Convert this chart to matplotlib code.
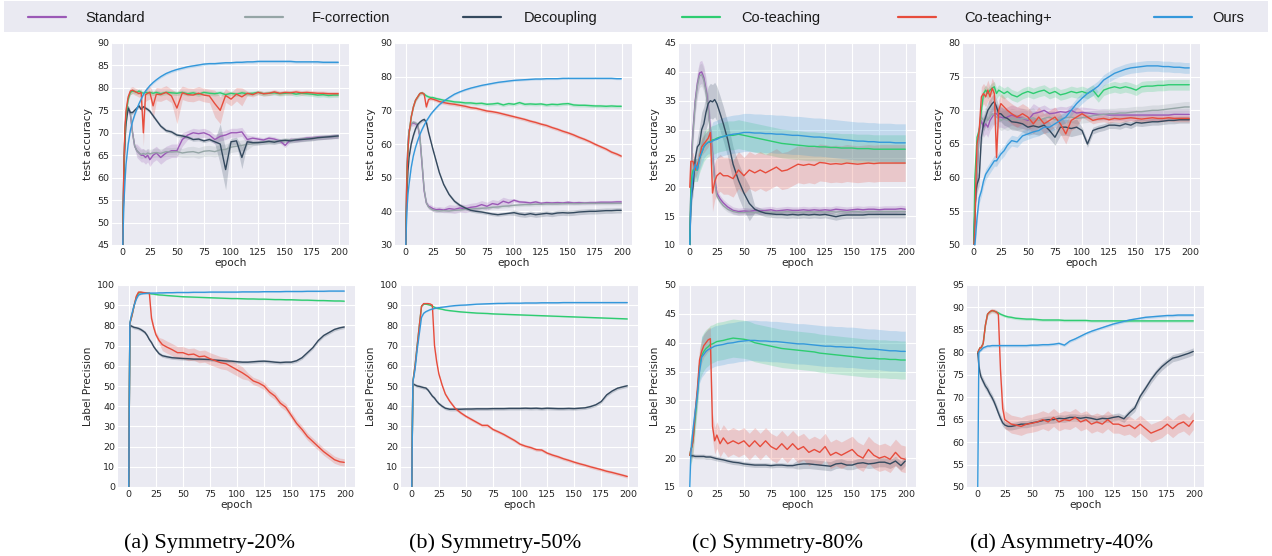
import numpy as np
import matplotlib
matplotlib.use('Agg')
import matplotlib.pyplot as plt
from matplotlib.lines import Line2D
from matplotlib.patches import Rectangle

plt.style.use('seaborn-v0_8-darkgrid')
plt.rcParams['font.family'] = ['DejaVu Sans']

METHODS = ['Standard', 'F-correction', 'Decoupling', 'Co-teaching', 'Co-teaching+', 'Ours']
COLORS = {'Standard': '#9b59b6', 'F-correction': '#95a5a6', 'Decoupling': '#34495e',
          'Co-teaching': '#2ecc71', 'Co-teaching+': '#e74c3c', 'Ours': '#3498db'}

EPOCHS = [0, 1, 2, 3, 5, 7, 9, 11, 13, 15, 17, 19, 21, 23, 25,
          28, 31, 35, 40, 45, 50, 55, 60, 65, 70, 75, 80, 85, 90, 95,
          100, 105, 110, 115, 120, 125, 130, 135, 140, 145, 150, 155,
          160, 165, 170, 175, 180, 185, 190, 195, 199]

CAPTIONS = ['(a) Symmetry-20%', '(b) Symmetry-50%', '(c) Symmetry-80%', '(d) Asymmetry-40%']

# ---------------- test accuracy, Symmetry-20% ----------------
acc_s20_standard = [45, 62, 70, 74, 75.5, 74, 70, 67, 66, 65.5, 65, 65, 64.5, 65, 64,
                    65, 65.5, 64.5, 65.5, 66, 66, 68.5, 69.5, 70, 69.8, 70, 69.5, 68.5, 69.2, 69.5,
                    70, 70, 70.2, 68.5, 68.8, 68.6, 68.4, 68.8, 68.6, 68.2, 67.2, 68.5,
                    68.4, 68.6, 68.8, 68.9, 69.0, 69.0, 69.1, 69.2, 69.2]
acc_s20_fcorr = [45, 62, 70, 74, 75.8, 74.5, 70, 67, 66, 65.5, 65.2, 65.4, 65.2, 65.5, 65.3,
                 65.5, 65.6, 65.4, 65.8, 65.7, 65.8, 65.5, 65.7, 65.8, 65.5, 65.9, 66, 65.8, 66.2, 66.3,
                 66.8, 67, 67.2, 67.4, 67.6, 67.8, 68, 67.9, 68.1, 68.2, 68.4, 68.4,
                 68.5, 68.6, 68.7, 68.8, 68.9, 69, 69.1, 69.2, 69.2]
acc_s20_decoupling = [45, 60, 68, 72, 75.5, 74.5, 74.5, 75, 75.5, 76, 75.2, 75.8, 75.5, 75.2, 74.8,
                      73.8, 72.8, 71.5, 70.5, 70.2, 69.5, 69.3, 69, 68.5, 68.6, 68.2, 68.5, 68, 67.5, 61.8,
                      68, 68.2, 64.5, 68, 67.8, 67.8, 67.9, 68.1, 67.9, 68.2, 68.3, 68.2,
                      68.4, 68.5, 68.6, 68.7, 68.9, 69, 69.1, 69.2, 69.3]
acc_s20_coteach = [45, 62, 70, 74, 77.5, 79, 79.3, 79.2, 79, 79.3, 79, 78.8, 79, 78.9, 79,
                   78.8, 79, 78.7, 79, 78.9, 78.8, 79, 78.7, 78.9, 78.6, 79, 78.8, 78.7, 78.9, 78.5,
                   78.8, 78.6, 78.9, 78.7, 78.8, 79, 78.7, 78.8, 78.9, 78.7, 78.8, 78.9,
                   78.6, 78.8, 78.7, 78.6, 78.4, 78.5, 78.3, 78.4, 78.4]
acc_s20_coplus = [45, 63, 71, 75, 78, 79.3, 79.5, 79.2, 79, 78.7, 79, 70, 78.5, 78.8, 79,
                  76, 78.6, 78.5, 79, 78.2, 75.5, 78.9, 78.5, 78.4, 78.8, 78.4, 78.2, 76.5, 75, 78.3,
                  77.5, 78.6, 78, 78.8, 78.5, 79, 78.7, 78.8, 79.1, 78.8, 79, 78.9,
                  79.1, 78.9, 79, 78.9, 78.8, 78.8, 78.7, 78.7, 78.7]
acc_s20_ours = [45, 54, 59, 63, 67.5, 70.5, 72.5, 74, 75.3, 76.5, 77.5, 78.5, 79.3, 79.9, 80.5,
                81.2, 81.8, 82.5, 83.2, 83.7, 84.1, 84.4, 84.7, 84.9, 85.1, 85.3, 85.4, 85.4, 85.5, 85.6,
                85.6, 85.7, 85.7, 85.8, 85.8, 85.9, 85.9, 85.9, 85.9, 85.9, 85.9, 85.9,
                85.8, 85.8, 85.8, 85.8, 85.8, 85.7, 85.7, 85.7, 85.7]
band_acc_s20 = [[(0, 0.5), (13, 1.5), (60, 1.0), (120, 0.5)],
                [(0, 0.5), (13, 1.0), (60, 1.2), (120, 0.5)],
                [(0, 0.4), (90, 4.5), (100, 0.8), (110, 2.5), (115, 0.5)],
                [(0, 0.5)],
                [(0, 0.8), (19, 3.0), (21, 1.5), (28, 3.0), (31, 1.5), (50, 3.5), (55, 1.5),
                 (85, 3.0), (95, 1.5), (110, 2.0), (115, 0.5)],
                [(0, 0.3)]]

# ---------------- test accuracy, Symmetry-50% ----------------
acc_s50_standard = [30, 52, 60, 64, 66, 66.2, 66, 65.5, 62, 54, 46, 42.5, 41.5, 41.2, 40.8,
                    40.5, 40.6, 40.4, 40.8, 40.6, 41, 40.8, 41.2, 41.4, 42, 41.5, 42.3, 42, 43, 42.5,
                    43.3, 42.8, 42.7, 42.5, 42.8, 42.4, 42.6, 42.5, 42.6, 42.5, 42.7, 42.5,
                    42.6, 42.5, 42.6, 42.6, 42.7, 42.7, 42.7, 42.8, 42.8]
acc_s50_fcorr = [30, 52, 60, 64, 66, 66.5, 66.2, 65.8, 62.5, 54.5, 46.5, 42.5, 41.3, 40.8, 40.4,
                 40.2, 40.1, 40.2, 40.1, 40.3, 40.4, 40.6, 40.7, 40.8, 40.9, 41, 41.2, 41.3, 41.5, 41.6,
                 41.8, 41.9, 42, 42, 42.1, 42.1, 42.2, 42.2, 42.2, 42.3, 42.3, 42.3,
                 42.3, 42.4, 42.4, 42.4, 42.4, 42.4, 42.4, 42.4, 42.4]
acc_s50_decoupling = [30, 45, 52, 56, 60, 62.5, 64.5, 65.8, 66.5, 67, 67.3, 66.5, 63.5, 61, 58.5,
                      55, 51.5, 48, 45, 43, 41.8, 41, 40.3, 40, 39.8, 39.5, 39.2, 39, 39.2, 39.4,
                      39.6, 39.2, 39, 39.3, 39, 39.2, 39.4, 39.2, 39.5, 39.6, 39.5, 39.6,
                      39.8, 39.9, 40, 40, 40.1, 40.2, 40.2, 40.3, 40.3]
acc_s50_coteach = [30, 50, 58, 63, 68, 71, 73, 74, 75, 75.2, 74.8, 74.3, 74, 73.8, 73.8,
                   73.5, 73.3, 73, 72.8, 72.5, 72.4, 72.2, 72.2, 72, 72.1, 71.8, 71.9, 72.1, 71.6, 72,
                   71.8, 72.3, 71.8, 71.9, 71.8, 71.9, 71.6, 71.8, 71.7, 71.9, 72, 71.6,
                   71.5, 71.5, 71.4, 71.3, 71.3, 71.2, 71.3, 71.2, 71.2]
acc_s50_coplus = [30, 50, 58, 63, 68, 71, 73, 74, 75, 75.2, 74.8, 71, 73.2, 73.5, 73.3,
                  73, 72.6, 72.3, 72, 71.8, 71.5, 71.2, 70.8, 70.6, 70.2, 69.8, 69.6, 69.3, 68.9, 68.5,
                  68.1, 67.7, 67.3, 66.8, 66.4, 65.9, 65.5, 64.9, 64.4, 63.8, 63.3, 62.7,
                  62, 61.4, 60.7, 59.9, 59.2, 58.5, 57.6, 57, 56.4]
acc_s50_ours = [30, 40, 45, 48, 53, 56.5, 59, 61, 62.8, 64.3, 65.6, 66.8, 67.8, 68.8, 69.6,
                70.7, 71.7, 72.7, 73.8, 74.8, 75.5, 76.1, 76.6, 77.0, 77.4, 77.7, 78.0, 78.3, 78.5, 78.7,
                78.9, 79.0, 79.1, 79.2, 79.3, 79.3, 79.4, 79.4, 79.4, 79.5, 79.5, 79.5,
                79.5, 79.5, 79.5, 79.5, 79.5, 79.5, 79.5, 79.4, 79.4]
band_acc_s50 = [[(0, 0.8), (40, 1.2), (100, 0.5)],
                [(0, 0.5)],
                [(0, 0.5), (100, 0.8)],
                [(0, 0.5)],
                [(0, 0.5)],
                [(0, 0.3)]]

# ---------------- test accuracy, Symmetry-80% ----------------
acc_s80_standard = [10, 20, 27, 30, 35, 38, 39.8, 40, 39, 37, 34, 30, 26, 21.5, 19,
                    18, 17.3, 16.6, 16, 15.8, 15.9, 15.8, 16, 15.9, 16, 16.1, 15.9, 16, 16.1, 16,
                    16, 16.1, 16, 16.1, 16, 16.1, 16, 16.2, 16.1, 16, 16.1, 16.2,
                    16.1, 16.2, 16.2, 16.1, 16.2, 16.2, 16.2, 16.3, 16.2]
acc_s80_fcorr = [10, 19, 26, 29.5, 34.5, 37.5, 39.3, 39.5, 38.5, 36.5, 33.5, 29.5, 25.5, 21, 18.5,
                 17.5, 16.8, 16.2, 15.8, 15.6, 15.6, 15.7, 15.6, 15.7, 15.7, 15.6, 15.7, 15.7, 15.8, 15.7,
                 15.7, 15.7, 15.8, 15.7, 15.8, 15.7, 15.8, 15.7, 15.8, 15.7, 15.8, 15.8,
                 15.7, 15.8, 15.8, 15.8, 15.8, 15.8, 15.8, 15.8, 15.8]
acc_s80_decoupling = [10, 17, 19, 20, 25, 27, 27.5, 30, 31, 33, 34.5, 35, 34.8, 35.2, 34.5,
                      32.8, 31, 28.3, 24, 21.2, 19, 17.2, 16.2, 15.8, 15.5, 15.4, 15.3, 15.3, 15.2, 15.3,
                      15.2, 15.3, 15.2, 15.3, 15.2, 15.3, 15.1, 14.9, 15.1, 15.2, 15.2, 15.2,
                      15.2, 15.3, 15.3, 15.3, 15.3, 15.3, 15.3, 15.3, 15.3]
acc_s80_coteach = [10, 20, 22, 23, 23, 23, 25, 26, 27, 27.5, 27.8, 28, 28.2, 28.3, 28.5,
                   28.7, 28.8, 29, 29, 29.2, 29, 28.8, 28.6, 28.4, 28.2, 28, 27.8, 27.6, 27.5, 27.4,
                   27.3, 27.2, 27.1, 27.1, 27, 27, 26.9, 26.9, 26.8, 26.8, 26.8, 26.7,
                   26.7, 26.7, 26.6, 26.6, 26.6, 26.6, 26.6, 26.6, 26.6]
acc_s80_coplus = [20, 24.5, 24.5, 24.5, 23, 24, 25, 27, 27.5, 28, 28.5, 29.5, 19, 21, 22,
                  22.5, 22, 22, 21.5, 23, 22, 23, 22.5, 23, 22.5, 23, 23.5, 22.8, 23, 23.5,
                  24, 23.8, 24, 23.8, 24.3, 24.2, 24, 24.1, 24, 24.2, 24.1, 24,
                  24.1, 24.2, 24.1, 24.2, 24.2, 24.2, 24.2, 24.2, 24.2]
acc_s80_ours = [10, 17, 20, 22, 24, 23, 25, 26, 27, 27.5, 27.8, 27.8, 28, 28.2, 28.3,
                28.6, 28.8, 29, 29.2, 29.3, 29.5, 29.5, 29.4, 29.4, 29.3, 29.3, 29.2, 29.2, 29.1, 29,
                29, 28.9, 28.8, 28.7, 28.7, 28.6, 28.5, 28.4, 28.3, 28.2, 28.1, 28,
                28, 27.9, 27.9, 27.8, 27.8, 27.8, 27.7, 27.7, 27.7]
band_acc_s80 = [[(0, 2.0), (25, 0.6)],
                [(0, 2.0), (25, 0.5)],
                [(0, 1.5), (9, 3.0), (60, 0.6)],
                [(0, 2.0), (9, 2.5)],
                [(0, 1.5), (21, 3.2)],
                [(0, 2.0), (21, 3.3)]]

# ---------------- test accuracy, Asymmetry-40% ----------------
acc_a40_standard = [50, 55, 58, 60, 67, 68.5, 67.5, 68, 67.5, 68.5, 69, 69.5, 69.5, 69, 69,
                    68.8, 69, 69.3, 69, 68.8, 68.5, 69.5, 69.7, 70, 69.5, 69.6, 69.8, 69.7, 70, 69.6,
                    69.7, 69.6, 69.5, 69.4, 69.4, 69.3, 69.3, 69.3, 69.3, 69.3, 69.3, 69.3,
                    69.3, 69.3, 69.3, 69.3, 69.3, 69.4, 69.4, 69.4, 69.4]
acc_a40_fcorr = [50, 55, 58, 60, 67, 69, 68.5, 69, 68.5, 69, 69.5, 69.3, 69, 68.8, 68.5,
                 68.7, 68.5, 68.8, 68.6, 68.8, 68.7, 68.9, 68.5, 68.8, 69, 68.6, 68.7, 68.9, 69, 68.8,
                 68.9, 69, 69.2, 69.3, 69.4, 69.5, 69.5, 69.6, 69.6, 69.7, 69.8, 69.8,
                 69.9, 70, 70, 70.1, 70.2, 70.3, 70.4, 70.5, 70.5]
acc_a40_decoupling = [50, 55, 58, 59, 60, 66, 68, 69, 70, 70.5, 71, 71.3, 70.5, 69.5, 69.5,
                      69, 68.8, 68.3, 68.2, 68, 67.5, 67.7, 67.5, 67.8, 67, 66, 67.5, 67.5, 67.3, 67.5,
                      67, 65, 67, 67.3, 67.5, 67.8, 67.8, 67.7, 68, 67.8, 68.2, 68.1,
                      68.2, 68.3, 68.3, 68.4, 68.5, 68.5, 68.6, 68.6, 68.6]
acc_a40_coteach = [50, 60, 63, 66, 67, 70, 72.5, 73, 72.5, 73, 73.3, 73.5, 72.5, 73, 72.8,
                   72.5, 72.8, 72.3, 72, 72.5, 72.8, 72.5, 72.8, 73, 72.5, 72.8, 72.3, 72.5, 72.8, 72.6,
                   72.8, 72.5, 73, 72, 73, 73.3, 73.5, 73.3, 73.5, 73.3, 73, 73.5,
                   73.6, 73.6, 73.7, 73.7, 73.8, 73.8, 73.8, 73.8, 73.8]
acc_a40_coplus = [50, 52, 60, 65, 67, 72, 72.5, 72, 73, 72, 73.3, 72.5, 63, 70, 71,
                  70.5, 70, 69.5, 69, 69.5, 69, 68, 69, 68, 68.5, 69, 68, 66.5, 68.5, 69,
                  69.5, 69, 68.5, 68.7, 68.8, 68.6, 68.8, 68.7, 68.8, 68.9, 68.8, 68.7,
                  68.8, 68.9, 68.8, 68.8, 68.9, 68.8, 68.8, 68.8, 68.8]
acc_a40_ours = [50, 50, 52, 54, 57, 58, 59.5, 60.5, 61, 61.5, 62, 62.5, 62.5, 63, 63.5,
                64, 64.8, 65.5, 65.3, 66.2, 66.5, 66.8, 67, 67.5, 67.5, 68, 68.5, 69, 70, 71,
                71.8, 72.5, 73, 73.6, 74.5, 75, 75.5, 75.8, 76.1, 76.3, 76.4, 76.5,
                76.6, 76.6, 76.6, 76.5, 76.5, 76.4, 76.4, 76.3, 76.3]
band_acc_a40 = [[(0, 1.5), (60, 0.8)],
                [(0, 1.5), (60, 0.8)],
                [(0, 1.2), (100, 0.5)],
                [(0, 0.8)],
                [(0, 1.5), (100, 0.5)],
                [(0, 0.8)]]

# ---------------- label precision, Symmetry-20% ----------------
prec_s20_decoupling = [0, 80, 79.8, 79.5, 79, 78.8, 78.5, 78, 77.3, 76.5, 75, 73, 71.5, 69.5, 68,
                       66, 65, 64.5, 64, 63.8, 63.6, 63.5, 63.3, 63.3, 63.2, 63.1, 62.8, 62.6, 62.4, 62.3,
                       62, 61.8, 61.8, 62, 62.2, 62.3, 62.1, 61.8, 61.6, 61.8, 61.8, 62.5,
                       64, 66.5, 69, 72.5, 75, 76.5, 78, 78.8, 79.2]
prec_s20_coteach = [0, 81, 83, 85, 90, 94, 96, 96.3, 96.2, 96, 96, 95.8, 95.6, 95.5, 95.3,
                    95.1, 95, 94.8, 94.6, 94.4, 94.2, 94.1, 94, 93.9, 93.8, 93.7, 93.6, 93.5, 93.4, 93.3,
                    93.3, 93.2, 93.1, 93.1, 93, 93, 92.9, 92.8, 92.8, 92.7, 92.7, 92.6,
                    92.5, 92.5, 92.4, 92.3, 92.3, 92.2, 92.1, 92.1, 92]
prec_s20_coplus = [0, 81, 83, 85, 90, 94.5, 96.5, 96.5, 96.3, 96.2, 96, 96, 83.5, 79, 75.5,
                   72.5, 70.5, 69.3, 68, 66.5, 66.5, 65.5, 65.8, 64.5, 64.8, 63.5, 62.5, 61.5, 61, 59.5,
                   58, 56.5, 54.7, 52.5, 51.5, 50, 47, 45, 41.5, 39.5, 35.5, 31.5,
                   28.5, 25, 22.5, 20, 17.5, 15.5, 13.5, 12.5, 12.2]
prec_s20_ours = [0, 81, 84, 86, 90, 93, 95, 95.5, 95.7, 95.8, 95.9, 96, 96, 96, 96,
                 96.1, 96.1, 96.2, 96.2, 96.3, 96.3, 96.3, 96.4, 96.4, 96.4, 96.5, 96.5, 96.5, 96.5, 96.5,
                 96.5, 96.6, 96.6, 96.6, 96.6, 96.7, 96.7, 96.7, 96.7, 96.8, 96.8, 96.8,
                 96.8, 96.9, 96.9, 96.9, 96.9, 97, 97, 97, 97]
band_prec_s20 = [[(0, 0.8)], [(0, 0.3)],
                 [(0, 0.5), (21, 1.5), (30, 3.0), (110, 1.8)], [(0, 0.3)]]

# ---------------- label precision, Symmetry-50% ----------------
prec_s50_decoupling = [0, 51, 50.8, 50.5, 50, 49.8, 49.5, 49.2, 49, 48, 46.5, 45, 44, 42.5, 41.3,
                       40, 39, 38.5, 38.5, 38.5, 38.6, 38.6, 38.7, 38.7, 38.7, 38.8, 38.8, 38.8, 38.9, 38.9,
                       38.9, 39, 38.9, 39, 38.8, 39, 38.9, 38.8, 38.8, 38.9, 38.8, 39,
                       39.2, 39.8, 40.7, 42.3, 45.6, 47.5, 48.9, 49.6, 50.1]
prec_s50_coteach = [0, 52, 56, 60, 70, 80, 89.5, 90.5, 90.5, 90.3, 90, 89.5, 89, 88.5, 88.3,
                    88, 87.6, 87.3, 87, 86.7, 86.5, 86.3, 86.1, 86, 85.9, 85.7, 85.6, 85.5, 85.4, 85.3,
                    85.2, 85.1, 85, 84.9, 84.8, 84.7, 84.6, 84.5, 84.4, 84.3, 84.2, 84.1,
                    84, 83.9, 83.8, 83.7, 83.6, 83.5, 83.4, 83.3, 83.2]
prec_s50_coplus = [0, 52, 56, 60, 70, 80, 89.5, 90.8, 90.8, 90.8, 90.6, 90, 70, 62, 56,
                   50.5, 46, 42.5, 39, 36.8, 35, 33.5, 32, 30.5, 30.5, 28.5, 27.3, 26, 24.5, 23,
                   21.2, 20.2, 19.5, 18.5, 18.3, 16.8, 15.8, 15, 14, 13.2, 12.3, 11.5,
                   10.8, 10, 9.3, 8.6, 7.8, 7.2, 6.5, 5.8, 5.2]
prec_s50_ours = [0, 52, 55, 58, 68, 76, 84, 86, 86.8, 87.3, 87.8, 88.1, 88.4, 88.6, 88.8,
                 89, 89.2, 89.5, 89.8, 90, 90.1, 90.3, 90.5, 90.6, 90.7, 90.8, 90.9, 90.9, 91, 91,
                 91, 91.1, 91.1, 91.1, 91.2, 91.2, 91.2, 91.2, 91.3, 91.3, 91.3, 91.3,
                 91.3, 91.3, 91.3, 91.3, 91.3, 91.3, 91.3, 91.3, 91.3]
band_prec_s50 = [[(0, 0.8)], [(0, 0.3)], [(0, 0.5), (21, 0.8)], [(0, 0.3)]]

# ---------------- label precision, Symmetry-80% ----------------
prec_s80_decoupling = [20.5, 20.4, 20.4, 20.4, 20.3, 20.3, 20.3, 20.3, 20.3, 20.2, 20.2, 20.2, 20.1, 20, 19.9,
                       19.8, 19.7, 19.5, 19.3, 19.2, 19, 18.9, 18.8, 18.8, 18.8, 18.7, 18.8, 18.8, 18.7, 18.7,
                       18.9, 19, 19, 18.9, 18.8, 18.7, 18.6, 19, 19.1, 18.8, 18.8, 19.1,
                       19.2, 19, 19.1, 19.3, 19.3, 19, 19.5, 18.7, 19.5]
prec_s80_coteach = [20.5, 21.5, 22, 23, 27, 31, 36, 37.8, 38.5, 39, 39.3, 39.7, 39.8, 40, 40.2,
                    40.3, 40.4, 40.6, 40.8, 40.7, 40.6, 40.4, 40, 39.8, 39.6, 39.4, 39.2, 39, 38.9, 38.8,
                    38.7, 38.6, 38.5, 38.4, 38.2, 38.1, 38, 37.9, 37.8, 37.7, 37.6, 37.5,
                    37.4, 37.3, 37.3, 37.2, 37.2, 37.1, 37.1, 37, 37]
prec_s80_coplus = [20.5, 21.5, 22, 23, 28, 32, 37, 38.5, 39.5, 40, 40.5, 40.7, 25.5, 23, 24,
                   22.5, 23.5, 22.5, 23, 22.5, 23, 22, 23, 22, 23, 22, 21.5, 22.5, 21.5, 22.5,
                   21.5, 22, 21, 21.5, 21, 22, 20.5, 21, 20.5, 21, 21.5, 20.5,
                   20, 21.5, 20.5, 20, 20.3, 19.8, 21, 20, 19.8]
prec_s80_ours = [15, 21, 23, 25, 28, 31, 35, 37.5, 38, 38.5, 38.8, 39, 39.2, 39.4, 39.5,
                 39.6, 39.7, 39.9, 40, 40.2, 40.3, 40.4, 40.4, 40.3, 40.3, 40.2, 40.2, 40.1, 40, 39.9,
                 39.8, 39.8, 39.7, 39.6, 39.5, 39.4, 39.4, 39.3, 39.3, 39.2, 39.2, 39.1,
                 39, 38.9, 38.9, 38.8, 38.7, 38.6, 38.6, 38.5, 38.5]
band_prec_s80 = [[(0, 0.4), (100, 0.8)], [(0, 2.5), (11, 3.3)],
                 [(0, 2.0), (21, 2.3)], [(0, 2.0), (11, 3.5)]]

# ---------------- label precision, Asymmetry-40% ----------------
prec_a40_decoupling = [80, 77, 75.5, 74.5, 73.5, 72.5, 71.8, 70.8, 70, 69, 67.8, 66.5, 65.3, 64.3, 63.8,
                       63.5, 63.5, 63.7, 64, 64, 64.3, 64.5, 64.8, 65, 65, 65.3, 65.2, 65.5, 65.5, 65.3,
                       65.5, 65.3, 65, 65.3, 65.2, 65.5, 65.7, 65.2, 66.5, 67.6, 70.2, 72,
                       73.9, 75.5, 76.8, 77.8, 78.7, 79, 79.4, 79.8, 80.2]
prec_a40_coteach = [80, 80.5, 81, 81, 82, 86, 88.5, 89, 89.3, 89.2, 89, 88.8, 88.5, 88.3, 88.1,
                    87.9, 87.8, 87.6, 87.5, 87.4, 87.4, 87.3, 87.2, 87.2, 87.2, 87.2, 87.1, 87.1, 87.1, 87.1,
                    87.1, 87, 87, 87, 87, 87, 87, 87, 87, 87, 87, 87,
                    87, 87, 87, 87, 87, 87, 87, 87, 87]
prec_a40_coplus = [80, 80.5, 81, 81, 82, 86, 88.5, 89, 89.3, 89.2, 89, 88.5, 76, 67.5, 65,
                   64.5, 64, 63.8, 63.5, 64, 64.2, 64.5, 65, 64.5, 65.5, 64.5, 65, 64.8, 65.5, 64.5,
                   65, 64, 64.5, 64, 65, 64, 64, 63.5, 63.8, 63, 64, 63,
                   62, 62.5, 63, 64, 63, 64, 64.5, 63.5, 64.8]
prec_a40_ours = [50, 80, 80.3, 80.5, 81, 81.2, 81.4, 81.4, 81.5, 81.5, 81.5, 81.5, 81.5, 81.5, 81.5,
                 81.5, 81.5, 81.5, 81.5, 81.5, 81.6, 81.6, 81.7, 81.7, 81.8, 82, 81.6, 82.5, 83, 83.6,
                 84.2, 84.7, 85.1, 85.5, 85.9, 86.3, 86.6, 86.9, 87.2, 87.4, 87.6, 87.8,
                 87.9, 88, 88.1, 88.2, 88.2, 88.3, 88.3, 88.3, 88.3]
band_prec_a40 = [[(0, 0.8)], [(0, 0.3)], [(0, 0.5), (23, 2.0)], [(0, 0.3)]]

TOP_PANELS = [
    ([acc_s20_standard, acc_s20_fcorr, acc_s20_decoupling, acc_s20_coteach, acc_s20_coplus, acc_s20_ours],
     band_acc_s20, (45, 90), 5),
    ([acc_s50_standard, acc_s50_fcorr, acc_s50_decoupling, acc_s50_coteach, acc_s50_coplus, acc_s50_ours],
     band_acc_s50, (30, 90), 10),
    ([acc_s80_standard, acc_s80_fcorr, acc_s80_decoupling, acc_s80_coteach, acc_s80_coplus, acc_s80_ours],
     band_acc_s80, (10, 45), 5),
    ([acc_a40_standard, acc_a40_fcorr, acc_a40_decoupling, acc_a40_coteach, acc_a40_coplus, acc_a40_ours],
     band_acc_a40, (50, 80), 5),
]
BOTTOM_PANELS = [
    ([prec_s20_decoupling, prec_s20_coteach, prec_s20_coplus, prec_s20_ours], band_prec_s20, (0, 100), 10),
    ([prec_s50_decoupling, prec_s50_coteach, prec_s50_coplus, prec_s50_ours], band_prec_s50, (0, 100), 10),
    ([prec_s80_decoupling, prec_s80_coteach, prec_s80_coplus, prec_s80_ours], band_prec_s80, (15, 50), 5),
    ([prec_a40_decoupling, prec_a40_coteach, prec_a40_coplus, prec_a40_ours], band_prec_a40, (50, 95), 5),
]
BOTTOM_METHODS = ['Decoupling', 'Co-teaching', 'Co-teaching+', 'Ours']

W, H = 1272, 556
ep = np.array(EPOCHS)


def band_width(steps):
    """std of the shaded band, given as (start epoch, width) steps"""
    w = np.zeros(len(ep))
    for start, s in steps:
        w[ep >= start] = s
    return w


def draw_panel(ax, series, bands, methods, ylim, ystep, ylabel):
    for name, vals, steps in zip(methods, series, bands):
        assert len(vals) == len(ep), (name, len(vals))
        v = np.array(vals, dtype=float)
        s = band_width(steps)
        ax.fill_between(ep, v - s, v + s, color=COLORS[name], alpha=0.22, lw=0)
        ax.plot(ep, v, color=COLORS[name], lw=1.0)
    ax.set_ylim(*ylim)
    ax.set_yticks(np.arange(ylim[0], ylim[1] + 0.1, ystep))
    ax.set_xticks(np.arange(0, 201, 25))
    ax.tick_params(labelsize=6.8, pad=2)
    ax.set_xlabel('epoch', fontsize=7.6, labelpad=1)
    ax.set_ylabel(ylabel, fontsize=7.6, labelpad=3)


fig = plt.figure(figsize=(W / 100, H / 100), dpi=100)

top_left = [112, 395, 679, 963]
bottom_left = [118, 401, 679, 967]
ax_w, ax_h = 237, 202

for i, (series, bands, ylim, ystep) in enumerate(TOP_PANELS):
    ax = fig.add_axes([top_left[i] / W, 1 - 245 / H, ax_w / W, ax_h / H])
    draw_panel(ax, series, bands, METHODS, ylim, ystep, 'test accuracy')

for i, (series, bands, ylim, ystep) in enumerate(BOTTOM_PANELS):
    ax = fig.add_axes([bottom_left[i] / W, 1 - 487 / H, ax_w / W, ax_h / H])
    draw_panel(ax, series, bands, BOTTOM_METHODS, ylim, ystep, 'Label Precision')

# legend band across the top
fig.add_artist(Rectangle((4 / W, 1 - 32 / H), 1264 / W, 31 / H, transform=fig.transFigure,
                         facecolor='#eaeaf2', edgecolor='none', zorder=0))
line_x = [28, 245, 463, 682, 898, 1154]
text_x = [85, 312, 524, 741, 964, 1212]
ly = 1 - 16.5 / H
for name, lx, tx in zip(METHODS, line_x, text_x):
    fig.add_artist(Line2D([lx / W, (lx + 38) / W], [ly, ly], transform=fig.transFigure,
                          color=COLORS[name], lw=1.6))
    fig.text(tx / W, ly - 1.5 / H, name, ha='left', va='center', fontsize=10.5,
             family=['Liberation Sans', 'DejaVu Sans'], color='#1a1a1a')

cap_x = [210, 495, 778, 1062]
for cx, cap in zip(cap_x, CAPTIONS):
    fig.text(cx / W, 1 - 543 / H, cap, ha='center', va='center', fontsize=16,
             family=['Liberation Serif', 'DejaVu Serif'], color='black')

fig.savefig('out.png', dpi=100, facecolor='white')
